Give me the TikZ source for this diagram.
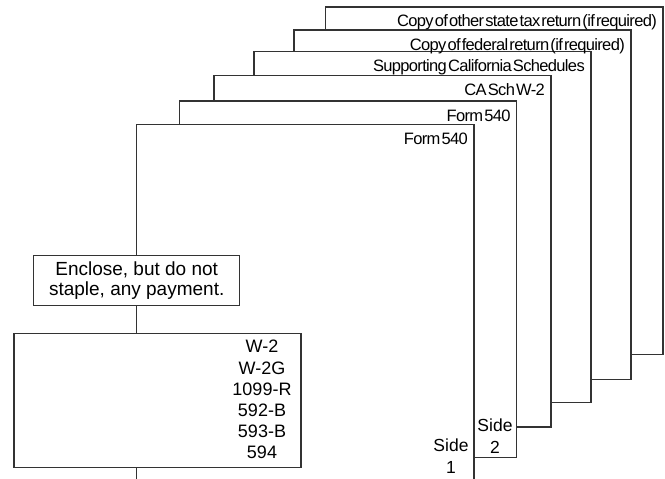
\documentclass[tikz,border=0pt]{standalone}
\usepackage{fontspec}
\setmainfont{Liberation Sans}
\newfontfamily\tightfont[LetterSpace=-4,WordSpace=0.3]{Liberation Sans}
\usepackage{tikz}
\usetikzlibrary{positioning,calc}

\begin{document}
\begin{tikzpicture}[x=1pt,y=-1pt,
	sheet/.style={draw=black!80, line width=1.1pt},
	sheetlabel/.style={anchor=base east, inner sep=0pt, font=\tightfont\fontsize{16.5}{18}\selectfont},
	box/.style={draw=black!80, line width=1.1pt, inner sep=0pt, align=center}]
	\useasboundingbox (0,0) rectangle (665,479);
	% front page of form 540
	\draw[sheet] (136.7,124.3) coordinate (front) -| (474,479);
	\node[sheetlabel] (lbl1) at (468,144.5) {Form 540};
	% the pages stacked behind it
	\foreach \n/\l/\t/\r/\b/\pt/\pr/\txt in {
		2/179.3/101/516.7/457.7/124.3/474/{Form 540},
		3/214/75.7/551/427/101/516.7/{CA Sch W-2},
		4/254/51.7/591/402.7/75.7/551/{Supporting California Schedules},
		5/294/30/631/379.3/51.7/591/{Copy of federal return (if required)},
		6/325.7/7/663/354.3/30/631/{Copy of other state tax return (if required)}}
	{
		\draw[sheet] (\l,\pt) |- (\r,\t) |- (\pr,\b);
		\node[sheetlabel] (lbl\n) at (\r-6,\t+20) {\txt};
	}
	% enclosures on the left
	\node[box, minimum width=206pt, minimum height=50pt, font=\fontsize{19}{20}\selectfont] (enclose) at (136.7,280.7) {Enclose, but do not\\staple, any payment.};
	\node[box, minimum width=287pt, minimum height=134.4pt] (docs) at (157.5,400.5) {};
	\node[align=center, inner sep=0pt, font=\fontsize{18}{21.1}\selectfont] (doclist) at (262,399.5) {W-2\\W-2G\\1099-R\\592-B\\593-B\\594};
	\coordinate (foot) at (136.7,479);
	\draw[sheet] (front) -- (enclose.north);
	\draw[sheet] (enclose.south) -- (enclose.south |- docs.north);
	\draw[sheet] (foot |- docs.south) -- (foot);
	% side labels
	\node[align=center, inner sep=0pt, font=\fontsize{17.5}{22}\selectfont] (side2) at (495,436) {Side\\2};
	\node[align=center, inner sep=0pt, font=\fontsize{17.5}{22}\selectfont] (side1) at (451,456) {Side\\1};
\end{tikzpicture}
\end{document}
